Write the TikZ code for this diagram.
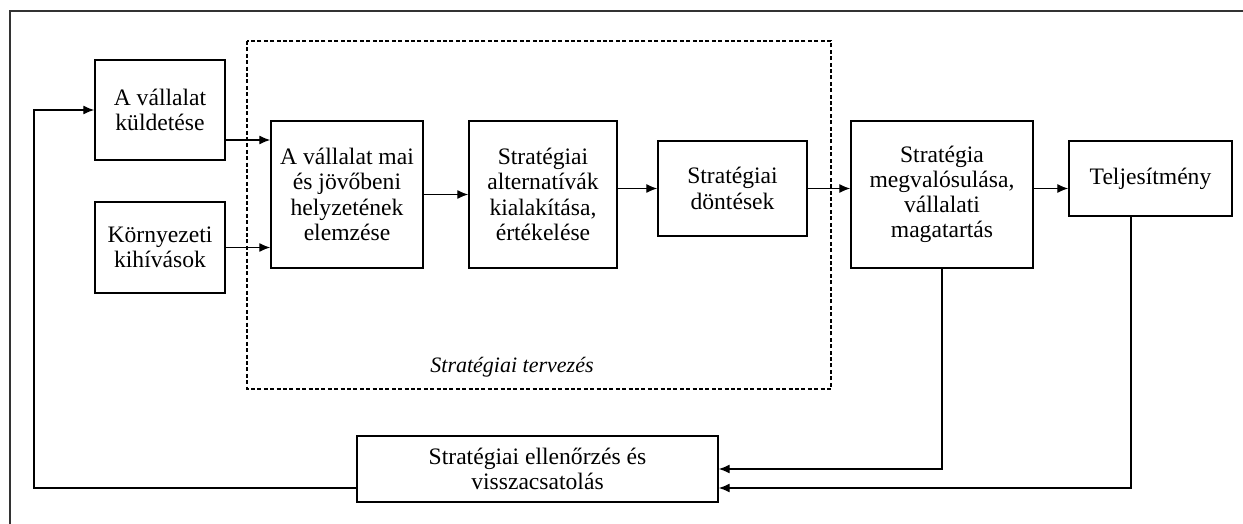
\documentclass[tikz,border=0pt]{standalone}
\usepackage{fontspec}
\setmainfont{Liberation Serif}
\usetikzlibrary{arrows.meta, positioning}

\begin{document}
\begin{tikzpicture}[
  x=0.5pt, y=-0.5pt,
  box/.style={
    rectangle, draw, line width=0.7pt,
    align=center, inner sep=2pt,
    font=\fontsize{11.8}{12.6}\selectfont
  },
  flow/.style={-{Latex[length=5.5pt,width=4.5pt]}, line width=0.65pt}
]
  \useasboundingbox (0,0) rectangle (1243,524);

  % Frame (top and left only)
  \draw[line width=1.1pt, black!80] (1243,11) -- (10,11) -- (10,524);

  % Planning area
  \draw[dash pattern=on 2pt off 1.2pt, line width=0.55pt] (247,41) rectangle (831,389);
  \node[font=\fontsize{11}{12}\selectfont\itshape]
        (plan) at (512,367) {Stratégiai tervezés};

  % Boxes left to right
  \node[box, minimum width=65pt, minimum height=50pt]
        (kuld)  at (160,110)     {A vállalat\\küldetése};
  \node[box, minimum width=65pt, minimum height=45.5pt]
        (korny) at (160,247.5)   {Környezeti\\kihívások};
  \node[box, minimum width=76pt, minimum height=73.5pt]
        (elemz) at (347,194.5)   {A vállalat mai\\és jövőbeni\\helyzetének\\elemzése};
  \node[box, minimum width=74pt, minimum height=73.5pt]
        (alter) at (543,194.5)   {Stratégiai\\alternatívák\\kialakítása,\\értékelése};
  \node[box, minimum width=74.5pt, minimum height=47.5pt]
        (dont)  at (732.5,188.5) {Stratégiai\\döntések};
  \node[box, minimum width=91pt, minimum height=73.5pt]
        (megv)  at (942,194.5)   {Stratégia\\megvalósulása,\\vállalati\\magatartás};
  \node[box, minimum width=81.5pt, minimum height=37.5pt]
        (telj)  at (1150.5,178.5) {Teljesítmény};
  \node[box, minimum width=180.5pt, minimum height=33pt]
        (ctrl)  at (537.5,469)   {Stratégiai ellenőrzés és\\visszacsatolás};

  % Forward flow
  \coordinate (kin) at (0,140);
  \draw[flow] (kuld.east |- kin) -- (elemz.west |- kin);
  \draw[flow] (korny.east) -- (elemz.west |- korny);
  \draw[flow] (elemz.east) -- (alter.west);
  \draw[flow] (alter.east |- dont) -- (dont.west);
  \draw[flow] (dont.east) -- (megv.west |- dont);
  \draw[flow] (megv.east |- dont) -- (telj.west |- dont);

  % Feedback
  \coordinate (fb) at (1131,488);
  \coordinate (loop) at (34,110);
  \draw[flow] (megv.south) |- (ctrl.east);
  \draw[flow] (telj.south -| fb) -- (fb) -- (ctrl.east |- fb);
  \draw[flow] (ctrl.west |- fb) -| (loop) -- (kuld.west);
\end{tikzpicture}
\end{document}
